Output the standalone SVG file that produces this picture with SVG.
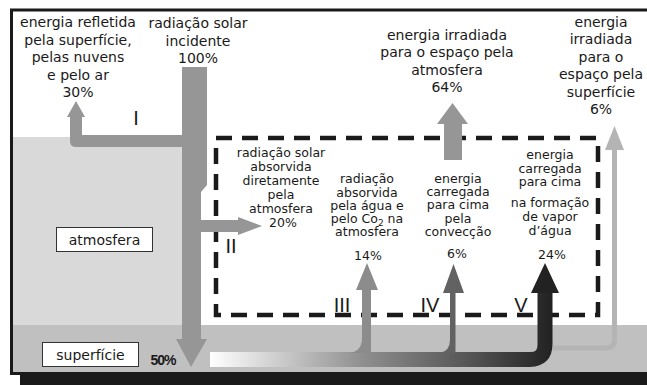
<svg xmlns="http://www.w3.org/2000/svg" width="647" height="385" viewBox="0 0 647 385">
<defs>
<style>
text{font-family:"DejaVu Sans","Liberation Sans",sans-serif;fill:#1a1a1a;text-anchor:middle}
.t{font-size:14px}
.s{font-size:12.5px}
.n{font-family:"Liberation Sans",Arial,sans-serif;font-size:20px}
.arr{fill:#969696}
</style>
<linearGradient id="g" gradientUnits="userSpaceOnUse" x1="210" y1="0" x2="552" y2="0">
<stop offset="0" stop-color="#ffffff"/>
<stop offset="0.45" stop-color="#8e8e8e"/>
<stop offset="0.75" stop-color="#565656"/>
<stop offset="1" stop-color="#222222"/>
</linearGradient>
</defs>
<rect x="0" y="0" width="647" height="385" fill="#ffffff"/>
<g id="background">
<rect x="12" y="137" width="170" height="188" fill="#d9d9d9"/>
<rect x="12" y="325" width="640" height="48" fill="#c0c0c0"/>
<rect x="11.5" y="10" width="660" height="363.5" fill="none" stroke="#1a1a1a" stroke-width="3"/>
<rect x="20" y="375" width="640" height="10" fill="#1a1a1a"/>
</g>
<g id="box-atmosfera">
<rect x="56.5" y="227.5" width="96" height="24" fill="#ffffff" stroke="#333" stroke-width="1"/>
<text class="t" x="104.5" y="245">atmosfera</text>
</g>
<g id="box-superficie">
<rect x="42.5" y="342.5" width="96" height="24" fill="#ffffff" stroke="#333" stroke-width="1"/>
<text class="t" x="90.5" y="360">superfície</text>
<text x="163" y="365" style="font-family:'Liberation Sans',Arial,sans-serif;font-size:14px;font-weight:bold;letter-spacing:-1px">50%</text>
</g>
<g id="dashed-box">
<rect x="216" y="138" width="382" height="177" fill="none" stroke="#1a1a1a" stroke-width="4.5" stroke-dasharray="16 10"/>
</g>
<g id="connectors">
<path class="arr" d="M182,67 H207 V185 L201,192 V339 H207 L191,367 L176,339 H182 Z"/>
<path class="arr" d="M183,135 H82 V117 H85 L76,101 L67,117 H70 V141 Q70,147 76,147 H183 Z"/>
<path class="arr" d="M200,220 H238 V217 L262,226 L238,235 V232 H200 Z"/>
<path class="arr" d="M444,160 V124 H437 L452.5,103 L468,124 H462 V160 Z"/>
<path d="M553,348 H606 Q614.5,348 614.5,339 V148" fill="none" stroke="#b4b4b4" stroke-width="5"/>
<polygon points="605,150 624,150 614.5,126" fill="#b4b4b4"/>
<path d="M210,359.5 H530 Q545,359.5 545,344 V290" fill="none" stroke="url(#g)" stroke-width="15"/>
<polygon points="531,293 559,293 545,263" fill="#222222"/>
<path d="M350,353 Q362,351 362,338 V290 H356 L367,263 L378,290 H371 V353 Z" fill="#8c8c8c"/>
<path d="M440,353 Q450,351 450,340 V293 H443 L453.5,264 L464,293 H455.5 V353 Z" fill="#626262"/>
</g>
<g id="labels-roman">
<text class="n" x="136" y="125">I</text>
<text class="n" x="231" y="253">II</text>
<text class="n" x="342" y="312">III</text>
<text class="n" x="430" y="312">IV</text>
<text class="n" x="521" y="312">V</text>
</g>
<g id="node-refletida">
<text class="t" x="78" y="27">energia refletida</text>
<text class="t" x="78" y="44.5">pela superfície,</text>
<text class="t" x="78" y="62">pelas nuvens</text>
<text class="t" x="78" y="79.5">e pelo ar</text>
<text class="t" x="78" y="97">30%</text>
</g>
<g id="node-incidente">
<text class="t" x="198" y="28">radiação solar</text>
<text class="t" x="198" y="45.5">incidente</text>
<text class="t" x="198" y="63">100%</text>
</g>
<g id="node-atm-irradiada">
<text class="t" x="447" y="39.5">energia irradiada</text>
<text class="t" x="447" y="57">para o espaço pela</text>
<text class="t" x="447" y="74.5">atmosfera</text>
<text class="t" x="447" y="92">64%</text>
</g>
<g id="node-sup-irradiada">
<text class="t" x="601" y="26.5">energia</text>
<text class="t" x="601" y="44">irradiada</text>
<text class="t" x="601" y="61.5">para o</text>
<text class="t" x="601" y="79">espaço pela</text>
<text class="t" x="601" y="96.5">superfície</text>
<text class="t" x="601" y="114">6%</text>
</g>
<g id="node-absorvida-atm">
<text class="s" x="281" y="157">radiação solar</text>
<text class="s" x="281" y="171">absorvida</text>
<text class="s" x="281" y="185">diretamente</text>
<text class="s" x="281" y="198.5">pela</text>
<text class="s" x="281" y="213">atmosfera</text>
<text class="s" x="283" y="227">20%</text>
</g>
<g id="node-agua-co2">
<text class="s" x="367" y="183">radiação</text>
<text class="s" x="367" y="196.5">absorvida</text>
<text class="s" x="367" y="209.5">pela água e</text>
<text class="s" x="367" y="222.5">pelo Co<tspan font-size="9" dy="3">2</tspan><tspan dy="-3"> na</tspan></text>
<text class="s" x="367" y="236">atmosfera</text>
<text class="s" x="368" y="260">14%</text>
</g>
<g id="node-conveccao">
<text class="s" x="458" y="183">energia</text>
<text class="s" x="458" y="196">carregada</text>
<text class="s" x="458" y="209">para cima</text>
<text class="s" x="458" y="223">pela</text>
<text class="s" x="458" y="236">convecção</text>
<text class="s" x="457" y="258">6%</text>
</g>
<g id="node-vapor">
<text class="s" x="550" y="159">energia</text>
<text class="s" x="550" y="173">carregada</text>
<text class="s" x="550" y="186">para cima</text>
<text class="s" x="550" y="207">na formação</text>
<text class="s" x="550" y="221">de vapor</text>
<text class="s" x="550" y="235">d’água</text>
<text class="s" x="552" y="259">24%</text>
</g>
</svg>
